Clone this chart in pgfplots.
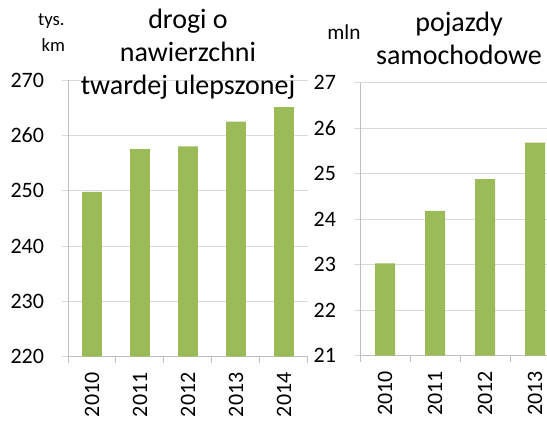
\documentclass[border=0pt]{standalone}
\usepackage{pgfplots}
\pgfplotsset{compat=1.18}
\usepackage{fontspec}
\setmainfont{Carlito}
\definecolor{bargreen}{HTML}{9BBB59}
\definecolor{gridgray}{HTML}{D9D9D9}
\definecolor{axisgray}{HTML}{BFBFBF}
\pgfplotsset{
  excelbar/.style={
    scale only axis,
    /pgf/number format/assume math mode=true,
    ybar,
    axis x line*=bottom,
    axis y line*=left,
    axis line style={-, draw=axisgray, line width=0.75pt},
    ymajorgrids,
    grid style={draw=gridgray, line width=0.75pt},
    tick align=outside,
    major tick length=4.5pt,
    minor tick length=4.5pt,
    every major x tick/.append style={draw=none},
    every minor x tick/.append style={draw=axisgray, line width=0.75pt},
    every major y tick/.append style={draw=gridgray, line width=0.75pt},
    ticklabel style={font=\fontsize{16.5}{19}\selectfont, text=black},
    xticklabel style={rotate=90, anchor=east},
    xticklabel shift=3.75pt,
    yticklabel shift=10pt,
    clip=true,
  }
}
\begin{document}
\begin{tikzpicture}
% left panel
\begin{axis}[excelbar,
  at={(51pt,52.7pt)}, anchor=south west,
  width=180pt, height=207.5pt,
  xmin=-0.5, xmax=4.5,
  ymin=220, ymax=270, ytick={220,230,...,270},
  xtick={0,1,2,3,4},
  xticklabels={2010,2011,2012,2013,2014},
  minor xtick={-0.5,0.5,1.5,2.5,3.5,4.5},
  bar width=0.41,
]
\addplot[fill=bargreen, draw=none] coordinates {(0,249.8) (1,257.5) (2,258.0) (3,262.5) (4,265.1)};
\end{axis}
% right panel
\begin{axis}[excelbar,
  at={(270pt,53.5pt)}, anchor=south west,
  width=140.25pt, height=204.75pt,
  xmin=-0.5, xmax=3.24,
  ymin=21, ymax=27, ytick={21,22,...,27},
  xtick={0,1,2,3},
  xticklabels={2010,2011,2012,2013},
  minor xtick={-0.5,0.5,1.5,2.5},
  bar width=0.4,
]
\addplot[fill=bargreen, draw=none] coordinates {(0,23.03) (1,24.18) (2,24.88) (3,25.68)};
\end{axis}
% titles
\begin{scope}[every node/.style={inner sep=0pt, anchor=base, text=black}]
\node[font=\fontsize{21}{25}\selectfont] at (141pt,298.5pt) {drogi o};
\node[font=\fontsize{21}{25}\selectfont] at (141pt,273.75pt) {nawierzchni};
\node[font=\fontsize{21}{25}\selectfont] at (141pt,249pt) {twardej ulepszonej};
\node[font=\fontsize{21}{25}\selectfont] at (344.25pt,296.25pt) {pojazdy};
\node[font=\fontsize{21}{25}\selectfont] at (344.25pt,271.5pt) {samochodowe};
\node[font=\fontsize{14}{16}\selectfont] at (38.5pt,300.75pt) {tys.};
\node[font=\fontsize{14}{16}\selectfont] at (40pt,281.5pt) {km};
\node[font=\fontsize{16}{19}\selectfont] at (258pt,290.25pt) {mln};
\end{scope}
\pgfresetboundingbox
\path (0,0) rectangle (410.25pt,320.25pt);
\end{tikzpicture}
\end{document}
